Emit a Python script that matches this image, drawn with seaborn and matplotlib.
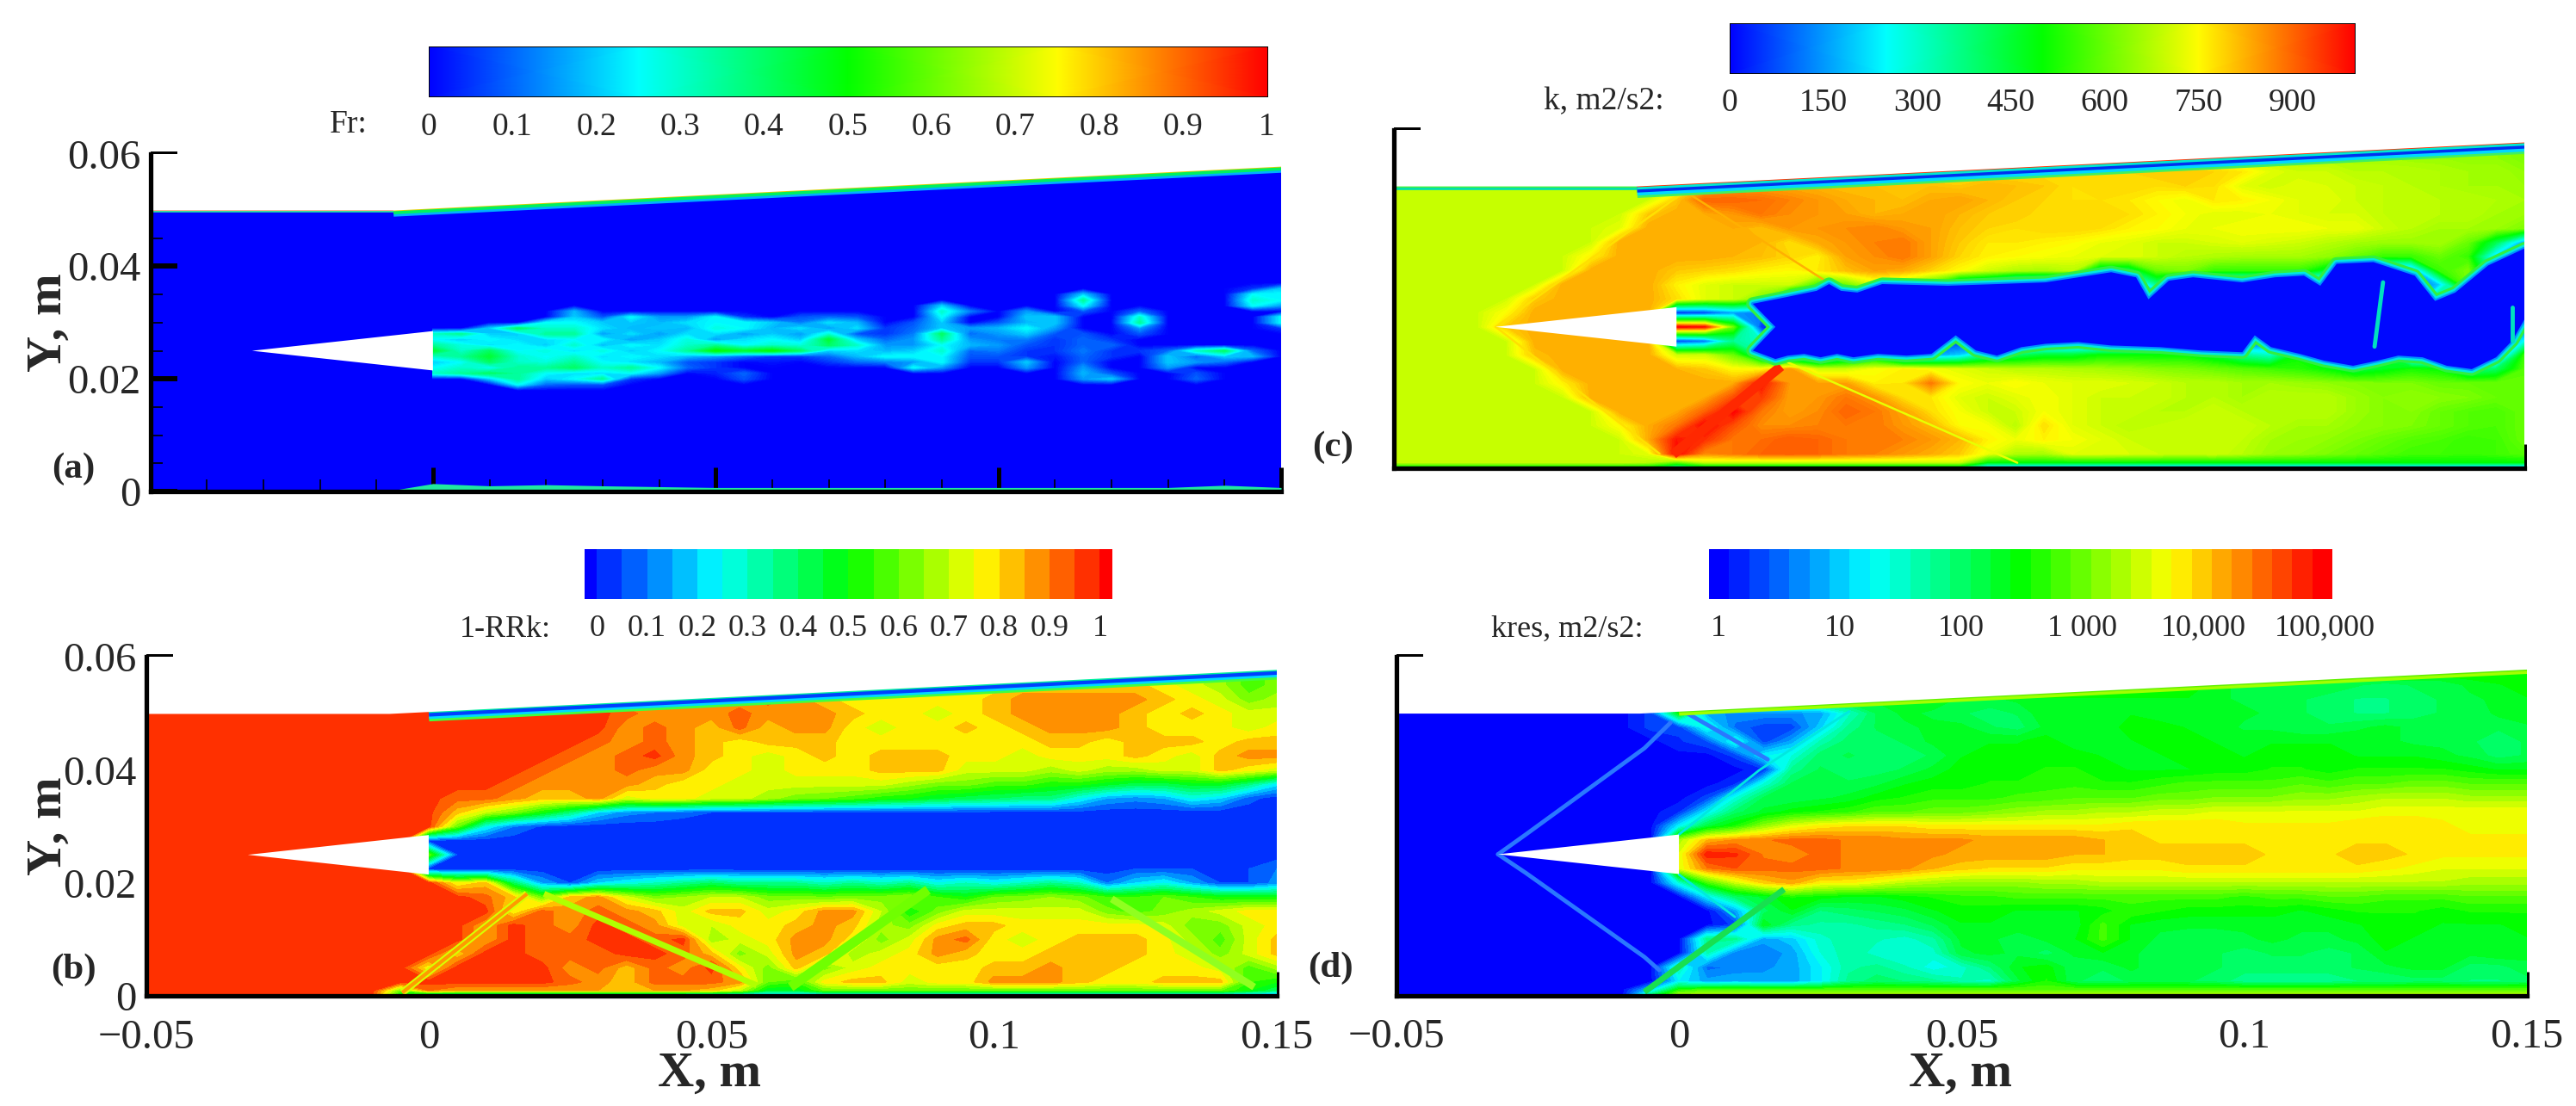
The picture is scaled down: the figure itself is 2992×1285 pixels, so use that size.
import numpy as np
import seaborn as sns
import matplotlib.pyplot as plt
from matplotlib.colors import LinearSegmentedColormap, ListedColormap

# Duct wall, wedge, grid axes (metres)
wall_x = [-0.05, -0.007, 0.15]
wall_y = [0.05, 0.05, 0.0578]
rim_x = [0.0, 0.15]
rim_y = [0.0504, 0.0578]
wedge_x = [-0.032, 0.0, 0.0]
wedge_y = [0.025, 0.0285, 0.0215]

right_x = [round(0.005 * i, 3) for i in range(31)]
rows_y = [0.06, 0.0575, 0.055, 0.0525, 0.05, 0.0475, 0.045, 0.0425, 0.04, 0.0375, 0.035, 0.0325, 0.03,
          0.0275, 0.025, 0.0225, 0.02, 0.0175, 0.015, 0.0125, 0.01, 0.0075, 0.005, 0.0025, 0.001, 0.0]

# (a) Fr in percent, jet part only, the rest of the duct is 0
fr_y = [0.037, 0.036, 0.035, 0.034, 0.033, 0.032, 0.031, 0.03, 0.029, 0.028, 0.027, 0.026, 0.025, 0.024,
        0.023, 0.022, 0.021, 0.02, 0.019, 0.018]
fr_field = [
    [0] * 31,
    [0] * 29 + [5, 20],
    [0, 0, 0, 0, 0] * 4 + [0, 0, 0, 20, 0, 0, 0, 0, 0, 25, 25],
    [0, 0, 0, 0, 0] * 4 + [0, 0, 0, 35, 0, 0, 0, 0, 0, 30, 25],
    [0, 0, 0, 0, 0] * 3 + [0, 0, 0, 20, 0, 0, 0, 0, 25, 0, 0, 0, 0, 0, 25, 15],
    [0, 0, 0, 0, 0, 18, 0, 0, 0, 0, 0, 0, 0, 0, 0, 0, 0, 0, 30, 12, 0, 15, 0, 8, 0, 10, 0, 0, 0, 0, 0],
    [0, 0, 0, 0, 0, 20, 8, 25, 15, 15, 25, 5, 0, 8, 10, 8, 0, 0, 25, 0, 0, 20, 20, 0, 0, 30, 0, 0, 0, 0, 25],
    [0, 0, 0, 0, 25, 25, 20, 20, 18, 22, 25, 25, 20, 12, 22, 18, 0, 8, 20, 0, 8, 18, 20, 0, 0, 35, 0, 0, 0, 0, 25],
    [0, 0, 20, 40, 30, 30, 22, 18, 20, 18, 28, 25, 18, 22, 15, 22, 5, 10, 20, 15, 18, 25, 15, 0, 0, 15, 0, 0, 0, 0, 5],
    [30, 35, 20, 20, 35, 35, 15, 22, 15, 22, 22, 15, 20, 15, 28, 8, 5, 12, 40, 10, 15, 20, 8, 8, 0, 8, 0, 0, 0, 0, 0],
    [25, 20, 25, 22, 22, 25, 25, 15, 20, 28, 15, 22, 25, 20, 45, 20, 10, 15, 35, 15, 12, 12, 5, 10, 5, 0, 0, 0, 0, 0, 0],
    [35, 28, 22, 25, 20, 30, 18, 25, 22, 30, 35, 25, 30, 28, 40, 30, 15, 15, 25, 18, 15, 8, 5, 10, 10, 0, 0, 0, 0, 0, 0],
    [45, 30, 40, 25, 28, 22, 28, 20, 25, 35, 50, 45, 50, 40, 20, 22, 18, 20, 30, 10, 12, 5, 5, 12, 5, 5, 10, 30, 40, 10, 0],
    [30, 35, 45, 30, 25, 30, 22, 25, 22, 18, 15, 10, 5, 5, 10, 18, 25, 25, 25, 8, 8, 5, 2, 10, 5, 0, 20, 10, 20, 18, 0],
    [20, 25, 40, 30, 28, 35, 25, 22, 18, 8, 5, 0, 2, 0, 5, 10, 12, 15, 25, 5, 5, 20, 0, 10, 0, 0, 20, 15, 10, 0, 0],
    [25, 30, 25, 35, 35, 40, 30, 35, 25, 10, 5, 0, 0, 0, 0, 0, 0, 25, 15, 0, 0, 15, 0, 15, 0, 0, 15, 0, 0, 0, 0],
    [30, 35, 40, 35, 25, 22, 22, 25, 15, 0, 3, 10, 0, 0, 0, 0, 0, 0, 0, 0, 0, 0, 0, 18, 8, 0, 0, 8, 0, 0, 0],
    [0, 0, 20, 35, 20, 25, 35, 5, 0, 0, 0, 8, 0, 0, 0, 0, 0, 0, 0, 0, 0, 0, 0, 15, 20, 0, 0, 10, 0, 0, 0],
    [0, 0, 0, 25, 10, 8, 8, 0, 0, 0] + [0] * 21,
    [0] * 31,
]
fr_floor_x = [-0.006, 0.0, 0.01, 0.02, 0.03, 0.05, 0.13, 0.14, 0.15]
fr_floor_y = [0.0004, 0.0014, 0.001, 0.0012, 0.001, 0.0007, 0.0007, 0.0011, 0.0007]

# (b) 1-RRk in percent
rrk_x = [-0.05, -0.01, -0.005] + right_x
rrk_field = [
    [97, 97, 97] + [97, 97, 97, 97, 97, 92, 87, 87, 82, 82, 82, 82, 82, 82, 77, 77, 77, 77, 77, 77, 77, 77, 77, 77, 77, 77, 77, 72, 67, 57, 62],
    [97, 97, 97] + [97, 97, 97, 97, 97, 92, 87, 87, 82, 82, 82, 82, 82, 82, 77, 77, 77, 77, 77, 77, 77, 77, 77, 77, 77, 77, 77, 72, 67, 57, 62],
    [97, 97, 97] + [97, 97, 97, 97, 97, 92, 87, 87, 82, 82, 87, 87, 82, 82, 82, 77, 77, 77, 77, 77, 77, 82, 82, 82, 82, 82, 77, 72, 67, 57, 62],
    [97, 97, 97] + [97, 97, 97, 97, 97, 97, 92, 87, 87, 87, 92, 87, 92, 87, 82, 77, 77, 77, 77, 77, 82, 87, 87, 87, 87, 87, 82, 77, 72, 62, 67],
    [97, 97, 97] + [97, 97, 97, 97, 97, 97, 97, 92, 87, 87, 87, 92, 87, 87, 87, 82, 77, 77, 72, 77, 82, 87, 87, 87, 87, 82, 77, 82, 77, 72, 72],
    [97, 97, 97] + [97, 97, 97, 97, 97, 97, 97, 87, 92, 87, 82, 92, 82, 87, 87, 77, 72, 77, 77, 82, 77, 82, 87, 87, 87, 82, 77, 77, 77, 72, 77],
    [97, 97, 97] + [97, 97, 97, 97, 97, 97, 92, 87, 92, 87, 82, 77, 82, 82, 82, 77, 77, 77, 77, 77, 77, 77, 82, 82, 77, 82, 82, 82, 77, 82, 82],
    [97, 97, 97] + [97, 97, 97, 97, 97, 92, 87, 92, 97, 87, 82, 77, 72, 77, 82, 77, 82, 82, 82, 77, 77, 72, 77, 77, 77, 82, 77, 72, 82, 87, 87],
    [97, 97, 97] + [97, 97, 97, 97, 92, 87, 87, 92, 87, 87, 77, 77, 72, 77, 77, 77, 82, 82, 82, 72, 72, 72, 67, 72, 67, 67, 72, 72, 82, 77, 72],
    [97, 97, 97] + [97, 97, 97, 92, 87, 87, 87, 87, 82, 77, 77, 72, 72, 72, 72, 72, 72, 67, 62, 62, 57, 57, 52, 52, 47, 42, 42, 47, 47, 37, 22],
    [97, 97, 97] + [97, 92, 92, 87, 82, 82, 87, 72, 77, 77, 72, 72, 67, 62, 60, 57, 52, 50, 45, 42, 40, 37, 37, 25, 15, 12, 15, 25, 20, 7, 2],
    [97, 97, 97] + [97, 82, 70, 62, 50, 37, 20, 12, 10, 7, 5, 4, 4, 4, 3, 3, 3, 3, 3, 3, 3, 3, 3, 3, 2, 2, 2, 2, 2, 2, 2],
    [97, 97, 97] + [97, 60, 25, 10, 4] + [2] * 26,
    [97, 97, 97] + [2] * 31,
    [97, 97, 97] + [60, 5] + [2] * 29,
    [97, 97, 97] + [2] * 25 + [5, 5, 5, 5, 5, 10],
    [97, 97, 97] + [97, 75, 82, 40, 15, 5, 20, 25, 30, 35, 40, 35, 35, 35, 30, 35, 30, 35, 25, 30, 25, 30, 35, 30, 10, 20, 25, 15, 5, 5, 12],
    [97, 97, 97] + [97, 97, 92, 82, 60, 82, 87, 72, 62, 65, 70, 70, 62, 62, 60, 62, 62, 65, 55, 50, 60, 62, 65, 62, 55, 55, 60, 55, 50, 50, 50],
    [97, 97, 97] + [97, 97, 97, 75, 92, 87, 92, 87, 82, 72, 82, 82, 72, 77, 87, 87, 70, 50, 62, 72, 72, 72, 72, 72, 62, 57, 62, 67, 72, 77, 77],
    [97, 97, 97] + [97, 97, 85, 97, 92, 87, 97, 92, 87, 72, 70, 77, 77, 82, 87, 82, 67, 62, 77, 82, 82, 77, 77, 77, 77, 77, 72, 62, 62, 72, 77],
    [97, 97, 97] + [97, 97, 85, 97, 92, 92, 97, 97, 92, 97, 66, 72, 77, 87, 87, 77, 62, 72, 87, 92, 77, 72, 77, 82, 82, 82, 77, 67, 57, 72, 82],
    [97, 97, 97] + [97, 80, 97, 97, 92, 92, 92, 97, 97, 92, 82, 62, 72, 87, 82, 67, 72, 77, 87, 82, 77, 77, 82, 82, 82, 82, 77, 72, 62, 72, 82],
    [97, 97, 97] + [75, 97, 97, 97, 97, 87, 92, 82, 92, 87, 97, 77, 62, 82, 62, 72, 77, 77, 77, 77, 82, 82, 87, 82, 82, 77, 77, 77, 72, 57, 67],
    [97, 97, 97] + [97, 97, 97, 97, 97, 92, 87, 82, 92, 92, 92, 87, 60, 55, 77, 82, 82, 72, 77, 77, 87, 87, 87, 82, 77, 77, 82, 82, 82, 55, 50],
    [97, 97, 60] + [90, 85, 85, 85, 85, 85, 85, 85, 85, 85, 82, 70, 45, 45, 60, 60, 60, 60, 60, 60, 60, 60, 60, 60, 60, 60, 60, 60, 60, 50, 40],
    [97, 97, 40] + [10] + [5] * 30,
]
rrk_shock_x = [-0.0047, 0.0174]
rrk_shock_y = [0.0006, 0.0181]
rrk_bands_x = [[0.0204, 0.058], [0.064, 0.0883], [0.1208, 0.146]]
rrk_bands_y = [[0.0181, 0.0019], [0.0016, 0.0188], [0.0172, 0.0016]]

# (c) k in units of 10 m2/s2
k_x = [-0.05, -0.035, -0.03, -0.025, -0.02, -0.015, -0.01, -0.005] + right_x
k_field = [
    [66] * 39,
    [66] * 38 + [60],
    [66] * 8 + [75] * 19 + [70, 68, 68, 67, 67, 66, 66, 65, 65, 64, 64, 62],
    [70] * 8 + [72] * 7 + [78, 78, 77, 78, 78, 78, 78, 79, 79, 79, 80, 80, 79, 77, 72, 70, 70, 68, 68, 68, 67, 66, 66, 64],
    [70] * 8 + [70, 82, 84, 84, 83, 82, 81, 81, 81, 81, 80, 82, 81, 80, 78, 79, 79, 78, 79, 78, 72, 70, 72, 71, 70, 69, 68, 67, 66, 66, 65],
    [70] * 8 + [80, 90, 90, 89, 87, 85, 83, 82, 81, 83, 84, 82, 80, 79, 78, 78, 77, 75, 73, 77, 76, 74, 72, 72, 70, 69, 69, 68, 68, 67, 66],
    [70] * 7 + [80] + [83, 83, 85, 88, 86, 85, 84, 82, 83, 84, 82, 80, 80, 78, 79, 79, 78, 76, 74, 72, 72, 73, 72, 71, 71, 69, 69, 68, 68, 66, 65],
    [70] * 6 + [72, 83] + [83, 83, 83, 81, 85, 85, 86, 87, 85, 84, 81, 79, 78, 79, 79, 78, 76, 75, 73, 73, 74, 74, 74, 73, 73, 70, 68, 66, 66, 65, 62],
    [70] * 6 + [83, 83] + [83, 83, 83, 82, 78, 83, 85, 87, 88, 84, 80, 77, 77, 76, 75, 73, 72, 70, 70, 71, 72, 71, 70, 68, 66, 65, 65, 66, 60, 42, 15],
    [70] * 5 + [76, 83, 83] + [83, 83, 82, 81, 79, 76, 84, 86, 88, 84, 79, 76, 75, 74, 73, 72, 72, 70, 68, 67, 66, 66, 66, 64, 60, 55, 55, 60, 55, 20, 3],
    [70] * 5 + [83, 83, 83] + [80, 79, 78, 76, 75, 77, 81, 84, 83, 79, 75, 70, 67, 66, 68, 40, 40, 60, 62, 55, 55, 55, 55, 45, 20, 5, 12, 55, 62, 30, 2],
    [70] * 4 + [83] * 4 + [76, 72, 70, 70, 70, 55, 60, 70, 65, 55, 30, 25, 8, 4, 3, 3, 3, 35, 5, 3, 3, 3, 3, 3, 3, 15, 5, 20, 62, 10, 3],
    [70, 70, 70, 80, 83, 83, 83, 83] + [78, 72, 70, 62, 25, 10, 8, 5, 4, 3, 3, 3, 3, 3, 3, 3, 3, 3, 3, 3, 3, 3, 3, 3, 3, 30, 3, 45, 5, 3, 3],
    [70, 70, 75, 83, 83, 83, 83, 83] + [3, 5, 15, 12, 10, 12, 10, 8, 8, 6, 4, 3, 3, 3, 3, 3, 3, 3, 3, 3, 3, 3, 3, 3, 3, 40, 3, 3, 3, 3, 3],
    [70, 70, 80, 83, 83, 83, 83, 83] + [100, 98, 60, 5, 5, 6, 8, 5, 3, 3, 3, 3, 3, 3, 3, 3, 3, 3, 3, 3, 3, 3, 3, 3, 3, 50, 3, 3, 3, 3, 10],
    [70, 70, 70, 83, 83, 83, 83, 83] + [5, 10, 35, 30, 4, 4, 8, 8, 10, 8, 5, 3, 3, 3, 3, 3, 3, 3, 3, 3, 3, 10, 25, 5, 30, 50, 3, 5, 5, 5, 25],
    [70, 70, 70, 81, 83, 83, 83, 83] + [70, 70, 60, 35, 25, 15, 30, 40, 12, 15, 20, 35, 40, 45, 45, 50, 50, 50, 50, 45, 35, 30, 50, 40, 10, 45, 10, 5, 30, 5, 55],
    [70, 70, 70, 70, 83, 83, 83, 83] + [82, 80, 75, 75, 85, 70, 70, 74, 76, 74, 72, 70, 68, 68, 67, 66, 65, 63, 62, 60, 58, 56, 54, 50, 42, 47, 52, 50, 35, 40, 58],
    [70, 70, 70, 70, 76, 83, 83, 83] + [83, 83, 83, 98, 85, 84, 84, 76, 77, 88, 75, 73, 75, 73, 72, 72, 71, 70, 68, 68, 66, 66, 65, 64, 63, 62, 62, 60, 60, 60, 60],
    [70, 70, 70, 70, 70, 83, 83, 83] + [83, 83, 92, 94, 84, 85, 88, 85, 78, 77, 72, 70, 72, 74, 72, 70, 70, 70, 68, 68, 66, 68, 68, 68, 65, 63, 64, 63, 62, 60, 60],
    [70] * 6 + [83, 83] + [83, 90, 100, 88, 84, 86, 90, 88, 84, 78, 74, 70, 70, 74, 72, 70, 70, 68, 68, 70, 68, 68, 68, 68, 65, 63, 63, 60, 58, 57, 60],
    [70] * 6 + [75, 83] + [88, 100, 92, 86, 86, 87, 88, 88, 85, 82, 75, 74, 68, 78, 72, 70, 68, 69, 70, 70, 70, 68, 66, 66, 64, 63, 62, 60, 58, 57, 60],
    [70] * 7 + [83] + [98, 95, 88, 89, 91, 90, 88, 88, 87, 85, 82, 76, 73, 76, 74, 72, 70, 70, 70, 70, 69, 66, 65, 64, 62, 60, 58, 57, 55, 56, 60],
    [70] * 7 + [72] + [100, 86, 88, 90, 91, 90, 88, 87, 85, 83, 80, 73, 67, 66, 72, 72, 71, 70, 69, 70, 68, 65, 64, 62, 60, 58, 56, 56, 55, 56, 58],
    [70] * 7 + [68] + [60] + [70] * 10 + [50] * 20,
    [45] * 8 + [30] + [40] * 10 + [15] * 20,
]
k_shocks_x = [[-0.032, 0.001], [-0.032, -0.003], [0.0016, 0.0277], [0.0197, 0.0603]]
k_shocks_y = [[0.025, 0.0487], [0.025, 0.0025], [0.049, 0.0323], [0.0187, 0.0009]]
k_stripe_x = [-0.0006, 0.0185]
k_stripe_y = [0.0024, 0.018]
# outline of the low k jet core, notched at the nozzle end
k_jet_x = [0.0135, 0.019, 0.0248, 0.027, 0.0291, 0.032, 0.0364, 0.048, 0.0567, 0.0653, 0.0769, 0.0813, 0.0835,
           0.0871, 0.0914, 0.1001, 0.1059, 0.111, 0.1139, 0.1168, 0.1233, 0.1306, 0.1342, 0.1378, 0.1436, 0.15,
           0.15, 0.1479, 0.145, 0.1407, 0.1363, 0.132, 0.1277, 0.124, 0.1197, 0.1146, 0.1103, 0.1052, 0.1023,
           0.1001, 0.0929, 0.0856, 0.0769, 0.0711, 0.0653, 0.061, 0.0567, 0.053, 0.0494, 0.0451, 0.0407, 0.0356,
           0.0313, 0.0284, 0.0255, 0.0226, 0.0197, 0.0175, 0.0135, 0.0175]
k_jet_y = [0.0291, 0.0302, 0.0314, 0.0326, 0.0314, 0.0311, 0.0326, 0.0323, 0.0326, 0.0329, 0.0347, 0.0338, 0.0299,
           0.0332, 0.0338, 0.0329, 0.0338, 0.0341, 0.0323, 0.0362, 0.0365, 0.0341, 0.0296, 0.0311, 0.0359, 0.0389,
           0.0263, 0.0226, 0.0196, 0.0175, 0.0181, 0.0196, 0.0199, 0.019, 0.0181, 0.019, 0.0202, 0.0214, 0.0235,
           0.0205, 0.0208, 0.0214, 0.0217, 0.0223, 0.022, 0.0214, 0.0199, 0.0208, 0.0235, 0.0202, 0.0199, 0.0202,
           0.0196, 0.0202, 0.0196, 0.0202, 0.0199, 0.0193, 0.0208, 0.025]
k_streaks_x = [[0.125, 0.1235], [0.1479, 0.1479]]
k_streaks_y = [[0.0329, 0.0215], [0.0285, 0.0226]]

# (d) kres as 10*log10(kres)
kres_x = [-0.05, -0.01, -0.005] + right_x
kres_field = [
    [0, 0, 0] + [26] * 31,
    [0, 0, 0] + [26] * 31,
    [0, 0, 0] + [26] * 19 + [23, 22, 22, 22, 22, 21, 20, 21, 21, 23, 24, 25],
    [0, 0, 0] + [26, 26, 26, 26, 25, 24, 23, 23, 24, 24, 22, 22, 23, 24, 24, 24, 24, 24, 24, 23, 22, 21, 21, 20, 19, 19, 20, 21, 22, 23, 24],
    [0, 0, 3] + [25, 8, 7, 7, 7, 8, 15, 21, 23, 22, 21, 20, 21, 24, 24, 24, 24, 23, 23, 23, 23, 22, 21, 20, 19, 19, 20, 21, 21, 23, 24],
    [0, 0, 3] + [3, 14, 5, 3, 3, 10, 18, 21, 22, 23, 23, 21, 20, 23, 24, 23, 25, 25, 24, 24, 22, 22, 21, 21, 22, 23, 22, 22, 21, 21, 22],
    [0, 0, 0] + [2, 4, 14, 3, 8, 16, 20, 20, 21, 23, 23, 24, 24, 25, 23, 23, 24, 25, 25, 24, 24, 24, 24, 24, 24, 23, 22, 22, 21, 20, 21],
    [0, 0, 0] + [0, 0, 3, 12, 14, 20, 21, 20, 20, 21, 24, 25, 25, 25, 25, 24, 23, 24, 25, 25, 24, 25, 25, 25, 24, 24, 24, 23, 22, 20, 21],
    [0, 0, 0] + [0, 0, 0, 2, 18, 21, 20, 20, 21, 23, 25, 25, 25, 26, 26, 25, 24, 24, 24, 25, 25, 26, 26, 25, 26, 26, 26, 26, 25, 24, 24],
    [0, 0, 0] + [0, 0, 2, 14, 21, 21, 21, 22, 24, 25, 25, 26, 26, 27, 27, 26, 26, 27, 28, 28, 28, 28, 29, 28, 29, 29, 30, 30, 29, 29, 29],
    [0, 0, 0] + [0, 3, 14, 21, 21, 22, 23, 25, 26, 27, 27, 27, 28, 28, 29, 29, 29, 30, 30, 31, 31, 31, 32, 32, 33, 34, 34, 34, 33, 33, 33],
    [0, 0, 0] + [2, 12, 20, 23, 25, 26, 27, 29, 29, 30, 30, 31, 32, 33, 33, 34, 34, 35, 35, 36, 36, 36, 36, 36, 36, 37, 37, 37, 37, 37, 37],
    [0, 0, 0] + [12, 22, 26, 32, 36, 38, 39, 39, 39, 38, 38, 38, 38, 38, 38, 38, 39, 39, 39, 39, 38, 38, 38, 38, 39, 39, 39, 38, 37, 37, 37],
    [0, 0, 0] + [33, 41, 43, 44, 45, 45, 44, 44, 43, 43, 43, 42, 42, 42, 42, 41, 40, 39, 39, 39, 39, 39, 39, 39, 39, 39, 39, 39, 38, 38, 38],
    [0, 0, 0] + [36, 49, 48, 44, 43, 45, 44, 44, 44, 43, 42, 42, 42, 42, 41, 41, 40, 40, 40, 40, 40, 39, 39, 39, 40, 40, 39, 38, 38, 38, 38],
    [0, 0, 0] + [36, 44, 46, 45, 45, 45, 44, 44, 43, 41, 40, 39, 39, 39, 38, 38, 38, 38, 39, 39, 39, 39, 39, 39, 39, 38, 37, 36, 36, 36, 36],
    [0, 0, 0] + [14, 28, 35, 40, 42, 38, 38, 36, 34, 33, 32, 32, 32, 33, 33, 34, 34, 34, 34, 34, 34, 34, 34, 34, 34, 34, 34, 34, 33, 33, 33],
    [0, 0, 0] + [0, 12, 20, 23, 26, 25, 24, 24, 25, 26, 27, 27, 28, 28, 28, 28, 28, 28, 28, 28, 27, 28, 28, 29, 29, 28, 28, 28, 29, 29, 29],
    [0, 0, 0] + [0, 0, 8, 20, 24, 19, 20, 21, 22, 24, 25, 25, 24, 24, 24, 25, 27, 26, 25, 25, 25, 25, 24, 25, 26, 26, 26, 25, 26, 26, 26],
    [0, 0, 0] + [0, 0, 3, 24, 18, 17, 17, 18, 19, 21, 24, 24, 24, 23, 23, 28, 24, 23, 23, 23, 23, 23, 23, 23, 24, 25, 25, 24, 24, 24, 25],
    [0, 0, 0] + [0, 18, 18, 8, 10, 15, 17, 16, 15, 17, 23, 23, 21, 23, 24, 28, 24, 22, 21, 21, 22, 23, 22, 22, 23, 25, 24, 23, 23, 24, 24],
    [0, 0, 0] + [0, 16, 6, 6, 8, 14, 17, 15, 14, 15, 22, 23, 22, 20, 23, 24, 23, 21, 21, 21, 20, 21, 21, 20, 21, 24, 24, 24, 23, 24, 23],
    [0, 0, 0] + [16, 5, 6, 7, 8, 12, 17, 18, 16, 13, 15, 19, 24, 25, 21, 21, 23, 21, 22, 21, 20, 20, 20, 20, 21, 22, 23, 23, 20, 20, 22],
    [0, 0, 0] + [12, 8, 9, 8, 8, 12, 18, 20, 19, 18, 16, 15, 22, 26, 21, 20, 21, 21, 21, 20, 18, 18, 18, 18, 19, 19, 20, 20, 19, 19, 20],
    [0, 0, 10] + [26] + [29] * 30,
    [0, 0, 20] + [34] * 31,
]
kres_blue_x = [[-0.032, -0.0271, -0.0061, -0.0015], [-0.032, -0.0271, -0.0061, -0.0035], [0.0009, 0.0157]]
kres_blue_y = [[0.025, 0.0285, 0.0438, 0.0483], [0.025, 0.0217, 0.0068, 0.0045], [0.0503, 0.0418]]
kres_edge_x = [[0.0, 0.0142, 0.0301], [0.0, 0.0099]]
kres_edge_y = [[0.0285, 0.0399, 0.0503], [0.0214, 0.0139]]
kres_green_x = [-0.0061, 0.0186]
kres_green_y = [0.0006, 0.0188]

# Colour bar contents and tick labels
x_ticks = [-0.05, 0, 0.05, 0.1, 0.15]
x_tick_labels = ['\u22120.05', '0', '0.05', '0.1', '0.15']
y_ticks = [0, 0.02, 0.04, 0.06]
y_tick_labels = ['0', '0.02', '0.04', '0.06']

fr_ramp = [0, 0.25, 0.5, 0.75, 1]
fr_ticks = [0, 0.1, 0.2, 0.3, 0.4, 0.5, 0.6, 0.7, 0.8, 0.9, 1]
fr_labels = ['0', '0.1', '0.2', '0.3', '0.4', '0.5', '0.6', '0.7', '0.8', '0.9', '1']
k_ramp = [0, 250, 500, 750, 1000]
k_ticks = [0, 150, 300, 450, 600, 750, 900]
k_labels = ['0', '150', '300', '450', '600', '750', '900']
rrk_levels = [-3, 0, 5, 10, 15, 20, 25, 30, 35, 40, 45, 50, 55, 60, 65, 70, 75, 80, 85, 90, 95, 100, 103]
rrk_ticks = [0, 10, 20, 30, 40, 50, 60, 70, 80, 90, 100]
rrk_labels = fr_labels
kres_ticks = [1, 10, 100, 1000, 10000, 100000]
kres_labels = ['1', '10', '100', '1 000', '10,000', '100,000']

W, H = 2992, 1285

sns.set_theme(style='white')
plt.rcParams['font.family'] = ['Liberation Serif', 'DejaVu Sans']
rainbow = LinearSegmentedColormap.from_list('rainbow5', ['#0000ff', '#00ffff', '#00ff00', '#ffff00', '#ff0000'], N=256)
rrk_cmap = ListedColormap(rainbow(np.linspace(0, 1, 22)))
kres_cmap = ListedColormap(rainbow(np.linspace(0, 1, 31)))

fig = plt.figure(figsize=(W / 100, H / 100), dpi=100)


def place(left, top, right, bottom):
    return fig.add_axes([left / W, 1 - bottom / H, (right - left) / W, (bottom - top) / H])


def px_text(x, y, s, **kw):
    fig.text(x / W, 1 - y / H, s, va='center', **kw)


def style_axes(ax, xlabels, ylabels):
    ax.set_xlim(-0.05, 0.15)
    ax.set_ylim(0, 0.06)
    ax.set_xticks(x_ticks)
    ax.set_xticklabels(x_tick_labels if xlabels else [])
    ax.set_yticks(y_ticks)
    ax.set_yticklabels(y_tick_labels if ylabels else [])
    ax.set_xticks([round(-0.05 + 0.01 * i, 2) for i in range(21)], minor=True)
    ax.set_yticks([round(0.005 * i, 3) for i in range(13)], minor=True)
    ax.tick_params(axis='x', which='major', direction='in', length=20, width=3.6, labelsize=35, pad=19, color='black', bottom=True)
    ax.tick_params(axis='y', which='major', direction='in', length=22, width=4.3, labelsize=35, pad=8, color='black', left=True)
    ax.tick_params(axis='both', which='minor', direction='in', length=10, width=1.2, color='black', bottom=True, left=True)
    sns.despine(ax=ax)
    for side in ['left', 'bottom']:
        ax.spines[side].set_linewidth(3.8)
        ax.spines[side].set_color('black')
        ax.spines[side].set_zorder(10)
    for t in ax.xaxis.get_major_ticks() + ax.yaxis.get_major_ticks():
        t.tick1line.set_zorder(10)


def mask_walls(ax, rims, rx, ry):
    # rim layers first, half of each line then disappears under the white
    for col, lw in rims:
        ax.plot(rx, ry, color=col, lw=lw, solid_capstyle='butt', zorder=4)
    ax.fill_between(wall_x, wall_y, 0.07, color='white', lw=0, zorder=5)
    ax.fill(wedge_x, wedge_y, color='white', lw=0, zorder=5)


def color_bar(box, values, ticks, labels, name, name_right, name_y, size, gouraud=False, **hm):
    ax = place(*box)
    kw = {'shading': 'gouraud'} if gouraud else {}
    sns.heatmap(values, ax=ax, cbar=False, xticklabels=False, yticklabels=False, **hm, **kw)
    n = np.shape(values)[1]
    ax.set_xlim(0, n - 1 if gouraud else n)
    ax.set_ylim(0, np.shape(values)[0] - 1 if gouraud else 1)
    ax.set_xticks(ticks)
    ax.set_xticklabels(labels)
    ax.tick_params(axis='x', length=0, labelsize=size, pad=13, bottom=True)
    px_text(name_right, name_y, name, ha='right', fontsize=size)
    return ax


# (a)
ax_a = place(174.5, 178.7, 1488, 571)
ax_a.set_facecolor('#0000ff')
ax_a.contourf(right_x, fr_y, fr_field, levels=np.linspace(0, 100, 101), cmap=rainbow, extend='both', zorder=1)
ax_a.fill_between(fr_floor_x, 0, fr_floor_y, color='#20e8a0', lw=0, zorder=3)
ax_a.plot(wall_x[:2], wall_y[:2], color='#30e8a0', lw=4, solid_capstyle='butt', zorder=4)
ax_a.plot(wall_x[:2], wall_y[:2], color='#ff4000', lw=1.5, solid_capstyle='butt', zorder=4)
mask_walls(ax_a, [('#00b0ff', 11), ('#00f060', 7), ('#e0d000', 2)], wall_x[1:], wall_y[1:])
style_axes(ax_a, False, True)

# (b)
ax_b = place(169.6, 763.3, 1483, 1157.3)
ax_b.contourf(rrk_x, rows_y, rrk_field, levels=rrk_levels, colors=[rrk_cmap(i) for i in range(22)], zorder=1)
for bx, by, bc, bw in zip(rrk_bands_x, rrk_bands_y, ['#b0ff00', '#70ff00', '#90ff20'], [5, 8, 6]):
    ax_b.plot(bx, by, color=bc, lw=bw, solid_capstyle='butt', zorder=2)
ax_b.plot(rrk_shock_x, rrk_shock_y, color='#d8ff00', lw=6, solid_capstyle='butt', zorder=2)
ax_b.plot(rrk_shock_x, rrk_shock_y, color='#ff9a00', lw=3, solid_capstyle='butt', zorder=2)
mask_walls(ax_b, [('#40ff40', 17), ('#00d8ff', 13), ('#0040ff', 9), ('#00f0a0', 3)], rim_x, rim_y)
style_axes(ax_b, True, True)

# (c)
ax_c = place(1619, 150.6, 2932, 543.5)
ax_c.contourf(k_x, rows_y, np.array(k_field) * 10, levels=np.linspace(0, 1000, 101), cmap=rainbow, extend='both', zorder=1)
for sx, sy, sc in zip(k_shocks_x, k_shocks_y, ['#ffe000', '#ffe000', '#ffb000', '#e8ff00']):
    ax_c.plot(sx, sy, color=sc, lw=1.8, zorder=2)
ax_c.plot(k_stripe_x, k_stripe_y, color='#ff2800', lw=8, solid_capstyle='butt', zorder=2)
ax_c.fill(k_jet_x, k_jet_y, facecolor='none', edgecolor='#30f040', lw=11, joinstyle='round', zorder=3)
ax_c.fill(k_jet_x, k_jet_y, facecolor='none', edgecolor='#00e8e0', lw=6.5, joinstyle='round', zorder=3)
ax_c.fill(k_jet_x, k_jet_y, facecolor='none', edgecolor='#0090ff', lw=3, joinstyle='round', zorder=3)
ax_c.fill(k_jet_x, k_jet_y, facecolor='#0008ff', lw=0, zorder=3)
for sx, sy in zip(k_streaks_x, k_streaks_y):
    ax_c.plot(sx, sy, color='#00e0c0', lw=3.5, solid_capstyle='round', zorder=3)
ax_c.plot(wall_x[:2], wall_y[:2], color='#00e0b0', lw=7, solid_capstyle='butt', zorder=4)
ax_c.plot(wall_x[:2], wall_y[:2], color='#40f040', lw=3, solid_capstyle='butt', zorder=4)
mask_walls(ax_c, [('#40f060', 20), ('#00d8ff', 16), ('#0030f0', 11), ('#00e8d0', 6), ('#ff3000', 2)], wall_x[1:], wall_y[1:])
style_axes(ax_c, False, False)

# (d)
ax_d = place(1621.8, 763, 2934.9, 1156.5)
ax_d.contourf(kres_x, rows_y, kres_field, levels=np.linspace(-1, 51, 32), colors=[kres_cmap(i) for i in range(31)], zorder=1)
for sx, sy in zip(kres_blue_x, kres_blue_y):
    ax_d.plot(sx, sy, color='#2a78ff', lw=3.5, solid_capstyle='round', zorder=2)
for sx, sy in zip(kres_edge_x, kres_edge_y):
    ax_d.plot(sx, sy, color='#00e8e0', lw=2, zorder=2)
ax_d.plot(kres_green_x, kres_green_y, color='#18e050', lw=5, solid_capstyle='butt', zorder=2)
mask_walls(ax_d, [('#a0ff00', 8), ('#60f000', 3)], rim_x, rim_y)
style_axes(ax_d, True, False)

# Colour bars
bar_a = color_bar((498, 54, 1471.5, 112), [fr_ramp, fr_ramp], [v * 4 for v in fr_ticks], fr_labels,
                  'Fr:', 427, 145, 27, gouraud=True, cmap=rainbow, vmin=0, vmax=1)
bar_c = color_bar((2009, 26.5, 2735, 84.6), [k_ramp, k_ramp], [v / 250 for v in k_ticks], k_labels,
                  'k, m2/s2:', 1933, 118, 27, gouraud=True, cmap=rainbow, vmin=0, vmax=1000)
for bar in [bar_a, bar_c]:
    for sp in bar.spines.values():
        sp.set_visible(True)
        sp.set_linewidth(0.7)
        sp.set_color('black')

rrk_cells = np.repeat(np.arange(22), [1] + [2] * 20 + [1])
color_bar((678.6, 638, 1292, 696), [rrk_cells], [1 + v * 0.4 for v in rrk_ticks], rrk_labels,
          '1-RRk:', 640, 731, 26, cmap=rrk_cmap, vmin=-0.5, vmax=21.5)
color_bar((1985, 638, 2709, 696), [np.arange(31)], [31 * (np.log10(v) + 0.08) / 5.14 for v in kres_ticks], kres_labels,
          'kres, m2/s2:', 1909, 731, 26, cmap=kres_cmap, vmin=-0.5, vmax=30.5)

# Axis names and panel letters
for yc in [375, 960]:
    px_text(57, yc, 'Y, m', ha='center', rotation=90, fontsize=42, fontweight='bold')
for xc in [824, 2277]:
    px_text(xc, 1248, 'X, m', ha='center', fontsize=42, fontweight='bold')
for xc, yc, s in [(85, 545, '(a)'), (85, 1127, '(b)'), (1548, 520, '(c)'), (1545, 1125, '(d)')]:
    px_text(xc, yc, s, ha='center', fontsize=31, fontweight='bold')

fig.savefig('out.png', dpi=100)
